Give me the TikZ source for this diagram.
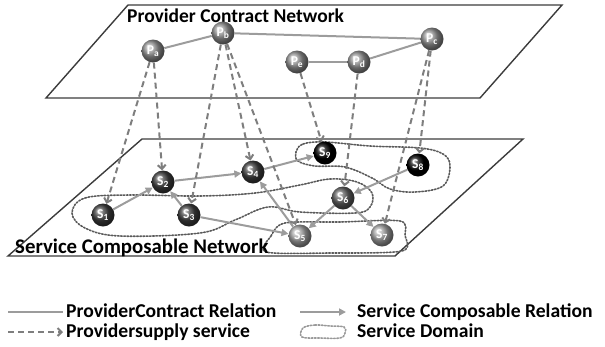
\documentclass[tikz,border=0pt]{standalone}
\usepackage{fontspec}
\setmainfont{Carlito}
\usetikzlibrary{arrows.meta}
\definecolor{planec}{HTML}{3C3C3C}
\definecolor{relc}{HTML}{9C9C9C}
\definecolor{dashc}{HTML}{7E7E7E}
\definecolor{domc}{HTML}{5A5A5A}
\begin{document}
\begin{tikzpicture}[x=1pt,y=-1pt,
  plane/.style={draw=planec,line width=1.4pt,line join=miter},
  ball/.style={circle,minimum size=23pt,inner sep=0pt,text=white,
     font=\bfseries\fontsize{13.5}{13.5}\selectfont},
  pnode/.style={ball,ball color=black!42},
  sdark/.style={ball,ball color=black!75},
  smid/.style={ball,ball color=black!62},
  sblack/.style={ball,ball color=black},
  slight/.style={ball,ball color=black!36},
  rel/.style={draw=relc,line width=2pt},
  comp/.style={draw=relc,line width=2pt,-{Triangle[length=7pt,width=7pt]}},
  supply/.style={draw=dashc,line width=2pt,dash pattern=on 6pt off 4pt,
     -{Straight Barb[length=4pt,width=8pt]}},
  sdomain/.style={draw=domc,line width=1.6pt,dash pattern=on 1.6pt off 1.6pt,line cap=round},
  big/.style={font=\bfseries\fontsize{20}{20}\selectfont,inner sep=0pt},
  leg/.style={font=\bfseries\fontsize{19.6}{20}\selectfont,inner sep=0pt,
     text height=13pt,text depth=2.5pt,anchor=base west}
]
\useasboundingbox (0,0) rectangle (605,346);
% planes
\draw[plane] (128,5) -- (562,5) -- (480,98) -- (46,98) -- cycle;
\draw[plane] (142,139) -- (523,139) -- (395,256) -- (8,256) -- cycle;
\node[big,font=\bfseries\fontsize{19.5}{20}\selectfont,anchor=base west] (title1) at (127,22) {Provider Contract Network};
% service domains
\draw[sdomain] plot[smooth cycle,tension=0.6] coordinates {(296,152) (303,144) (325,142) (370,146) (420,148) (443,154) (450,166) (443,186) (415,192) (390,189) (372,178) (345,167) (315,166) (298,161)};
\draw[sdomain] plot[smooth cycle,tension=0.6] coordinates {(72,213) (85,198) (130,195) (200,196) (255,193) (300,185) (330,179) (357,182) (372,193) (370,207) (355,213) (300,212) (268,207) (235,220) (200,233) (120,236) (85,228)};
\draw[sdomain] plot[smooth cycle,tension=0.5] coordinates {(266,252) (271,236) (285,223) (340,222) (400,221) (405,235) (402,251) (330,253)};
% nodes
\node[pnode] (Pa) at (153,51) {P\textsubscript{a}};
\node[pnode] (Pb) at (223,33) {P\textsubscript{b}};
\node[pnode] (Pc) at (432,39) {P\textsubscript{c}};
\node[pnode] (Pd) at (359,62) {P\textsubscript{d}};
\node[pnode] (Pe) at (297,62) {P\textsubscript{e}};
\node[sdark] (S1) at (103,215) {S\textsubscript{1}};
\node[sdark] (S2) at (163,182) {S\textsubscript{2}};
\node[sdark] (S3) at (189,215) {S\textsubscript{3}};
\node[sdark] (S4) at (253,172) {S\textsubscript{4}};
\node[slight] (S5) at (300,236) {S\textsubscript{5}};
\node[smid] (S6) at (343,198) {S\textsubscript{6}};
\node[slight] (S7) at (382,235) {S\textsubscript{7}};
\node[sblack] (S8) at (418,165) {S\textsubscript{8}};
\node[sblack] (S9) at (325,153) {S\textsubscript{9}};
% provider contract relations
\draw[rel] (Pa) -- (Pb);
\draw[rel] (Pb) -- (Pc);
\draw[rel] (Pe) -- (Pd);
\draw[rel] (Pd) -- (Pc);
% service composable relations
\draw[comp] (S1) -- (S2);
\draw[comp] (S2) -- (S4);
\draw[comp] (S3) -- (S2);
\draw[comp] (S3) -- (S5);
\draw[comp] (S4) -- (S9);
\draw[comp] (S5) -- (S4);
\draw[comp] (S6) -- (S5);
\draw[comp] (S6) -- (S7);
\draw[comp] (S8) -- (S6);
% provider supply service
\draw[supply] (Pa) -- (S1);
\draw[supply] (Pa) -- (S2);
\draw[supply] (Pb) -- (S3);
\draw[supply] (Pb) -- (S4);
\draw[supply] (Pb) -- (S5);
\draw[supply] (Pe) -- (S9);
\draw[supply] (Pd) -- (S6);
\draw[supply] (Pc) -- (S8);
\draw[supply] (Pc) -- (S7);
\node[big,font=\bfseries\fontsize{20.8}{21}\selectfont,anchor=base west] (title2) at (15,253) {Service Composable Network};
% legend
\coordinate (l1a) at (8,312); \coordinate (l1b) at (63,312);
\coordinate (l2a) at (300,312); \coordinate (l2b) at (346,312);
\coordinate (l3a) at (8,332); \coordinate (l3b) at (63,332);
\draw[rel] (l1a) -- (l1b);
\draw[comp] (l2a) -- (l2b);
\draw[supply] (l3a) -- (l3b);
\draw[sdomain,draw=black!40] plot[smooth cycle,tension=0.6] coordinates {(303,328) (315,325) (330,326) (344,327) (345,333) (340,338) (320,338) (302,337)};
\node[leg] (lt1) at (66,317) {ProviderContract Relation};
\node[leg] (lt2) at (357,317) {Service Composable Relation};
\node[leg] (lt3) at (66,337.5) {Providersupply service};
\node[leg] (lt4) at (357,337.5) {Service Domain};
\end{tikzpicture}
\end{document}
